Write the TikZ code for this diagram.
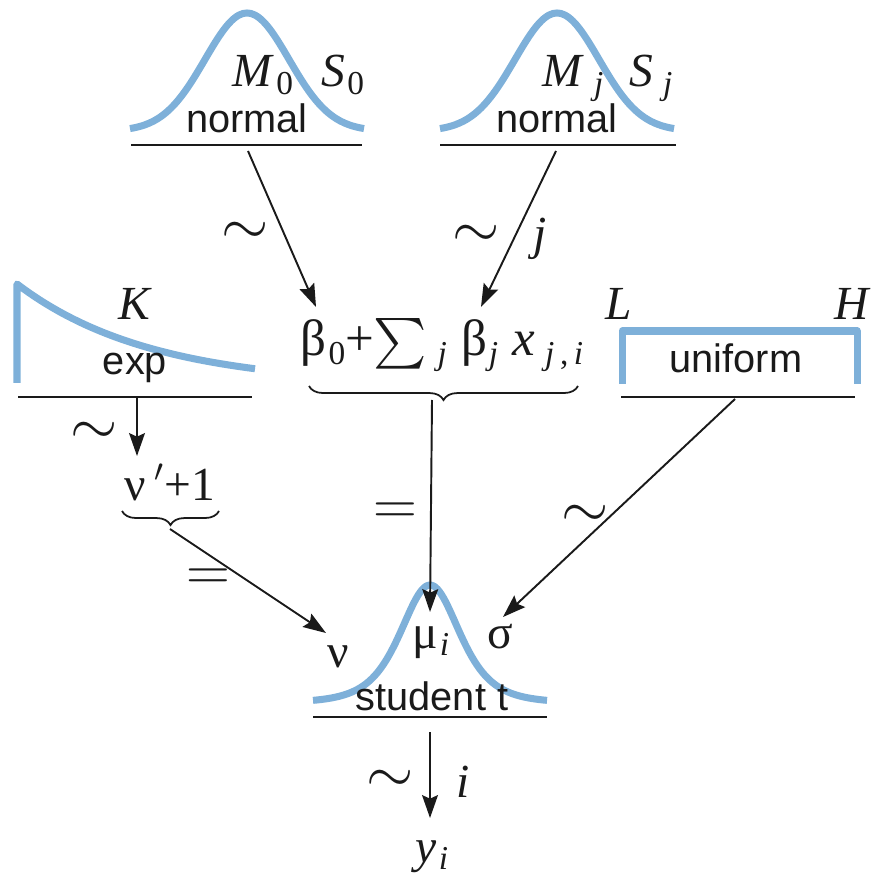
\documentclass[tikz,border=0pt]{standalone}
\usepackage{exscale}
\usepackage{fontspec}
\setmainfont{Liberation Serif}
\newfontfamily\distfont{Liberation Sans}
\usetikzlibrary{arrows.meta,positioning,decorations.pathreplacing}
\definecolor{curveblue}{HTML}{7EB0D9}
\definecolor{ink}{HTML}{1A1A1A}
\newcommand{\lsub}[1]{\kern0.5pt\raisebox{-0.35ex}{\fontsize{9.5}{10}\selectfont #1}}
\newcommand{\mi}[1]{\textit{#1}}
\tikzset{
  density/.style={draw=curveblue,line width=2pt,line join=round},
  floor/.style={draw=ink,line width=0.7pt},
  distname/.style={font=\distfont\fontsize{11.3}{12}\selectfont,text=ink,inner sep=0pt},
  parlabel/.style={font=\fontsize{13.5}{14}\selectfont,text=ink,inner sep=0pt},
  relsym/.style={font=\fontsize{16}{16}\selectfont,text=ink,inner sep=0pt},
  link/.style={-{Stealth[length=6.5pt,width=4.5pt,inset=1pt]},line width=0.55pt,draw=ink},
  curly/.style={decorate,decoration={brace,amplitude=4pt},line width=0.5pt,draw=ink}
}

\begin{document}
\begin{tikzpicture}[x=0.01cm,y=-0.01cm]
  \useasboundingbox (0,0) rectangle (875,877);
  % normal prior, intercept
  \draw[density] plot[domain=-117:117,samples=61,smooth]
    ({247+\x},{131-118*exp(-0.5*(\x/42)*(\x/42))});
  \draw[floor] (131,145) -- (362,145);
  \node[distname] (normA) at (247,118) {normal};
  \node[parlabel,anchor=base] (normA-mean) at (263,87) {\mi{M}\lsub{0}};
  \node[parlabel,anchor=base] (normA-sd) at (343,87) {\mi{S}\lsub{0}};
  \coordinate (normA-foot) at (248,151);
  % normal prior, slopes
  \draw[density] plot[domain=-117:117,samples=61,smooth]
    ({557+\x},{131-118*exp(-0.5*(\x/42)*(\x/42))});
  \draw[floor] (440,145) -- (676,145);
  \node[distname] (normB) at (557,118) {normal};
  \node[parlabel,anchor=base] (normB-mean) at (573,87) {\mi{M}\,\lsub{\mi{j}}};
  \node[parlabel,anchor=base] (normB-sd) at (651,87) {\mi{S}\,\lsub{\mi{j}}};
  \coordinate (normB-foot) at (556,151);
  % exponential prior
  \draw[density] (17,383) -- plot[domain=0:238,samples=40,smooth]
    ({17+\x},{386-102*exp(-\x/134)});
  \draw[floor] (18,397) -- (252,397);
  \node[parlabel,anchor=base] (expd-K) at (135,320) {\mi{K}};
  \node[distname] (expd) at (135,368) {exp};
  \coordinate (expd-foot) at (137,398);
  % uniform prior
  \draw[density] (622,384) -- (622,331) -- (857,331) -- (857,384);
  \draw[floor] (621,397) -- (855,397);
  \node[parlabel,anchor=base] (unif-L) at (619,320) {\mi{L}};
  \node[parlabel,anchor=base] (unif-H) at (853,320) {\mi{H}};
  \node[distname] (unif) at (736,358) {uniform};
  \coordinate (unif-foot) at (735,399);
  % linear predictor
  \node[parlabel,anchor=base,font=\fontsize{14.5}{15}\selectfont] (formula) at (442,356)
    {β\lsub{0}+$\textstyle\sum$\,\lsub{\mi{j}}\;β\lsub{\mi{j}}\;\mi{x}\,\lsub{\mi{j}\,,\,\mi{i}}};
  \draw[curly] (578,386) -- (309,386);
  \coordinate (formula-in0) at (316,307);
  \coordinate (formula-inj) at (481,307);
  \coordinate (formula-foot) at (432,400);
  % shifted normality
  \node[parlabel,anchor=base] (nuplus) at (170,500) {ν\,$'$+1};
  \draw[curly] (219,511) -- (122,511);
  \coordinate (nuplus-top) at (137,456);
  \coordinate (nuplus-foot) at (170,529);
  % likelihood
  \draw[density] plot[domain=-117:117,samples=61,smooth]
    ({430+\x},{703-118*exp(-2.5*ln(1+(\x/31)*(\x/31)/4))});
  \draw[floor] (313,717) -- (547,717);
  \node[distname] (stud) at (432,696) {student t};
  \node[parlabel,anchor=base] (stud-nu) at (338,667) {ν};
  \node[parlabel,anchor=base] (stud-mu) at (431,648) {μ\lsub{\mi{i}}};
  \node[parlabel,anchor=base] (stud-sigma) at (500,648) {σ};
  \coordinate (stud-nu-in) at (326,633);
  \coordinate (stud-mu-in) at (430,612);
  \coordinate (stud-sigma-in) at (503,617);
  \coordinate (stud-foot) at (430,732);
  \node[parlabel,anchor=base] (yobs) at (432,862) {\mi{y}\lsub{\mi{i}}};
  \coordinate (yobs-in) at (430,818);
  % connectors
  \draw[link] (normA-foot) -- (formula-in0);
  \draw[link] (normB-foot) -- (formula-inj);
  \draw[link] (expd-foot) -- (nuplus-top);
  \draw[link] (formula-foot) -- (stud-mu-in);
  \draw[link] (unif-foot) -- (stud-sigma-in);
  \draw[link] (nuplus-foot) -- (stud-nu-in);
  \draw[link] (stud-foot) -- (yobs-in);
  % relation marks
  \node[relsym] (tilA) at (245,233) {$\sim$};
  \node[relsym] (tilB) at (476,236) {$\sim$};
  \node[parlabel,anchor=base] (tilB-j) at (540,250) {\mi{j}};
  \node[relsym] (tilE) at (94,433) {$\sim$};
  \node[relsym] (tilU) at (585,516) {$\sim$};
  \node[relsym] (eqF) at (395,514) {$=$};
  \node[relsym] (eqN) at (208,580) {$=$};
  \node[relsym] (tilY) at (390,781) {$\sim$};
  \node[parlabel,anchor=base] (tilY-i) at (463,797) {\mi{i}};
\end{tikzpicture}
\end{document}
